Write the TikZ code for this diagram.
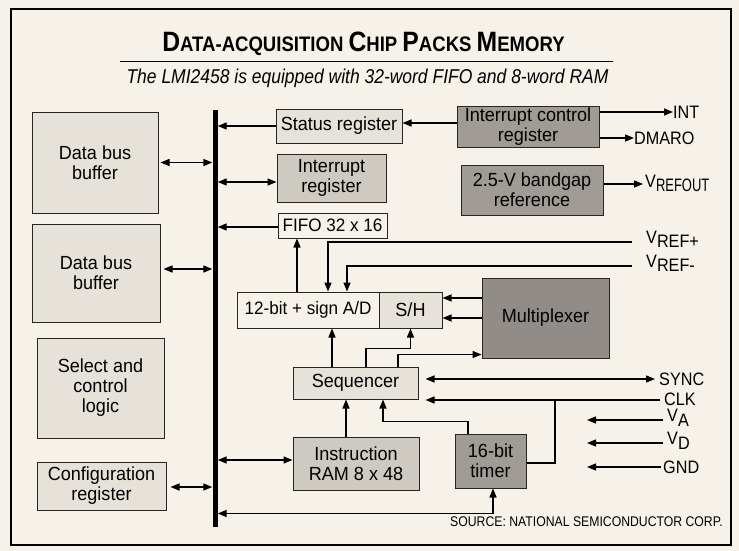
\documentclass[tikz,border=0pt]{standalone}
\usepackage{fontspec}
\setmainfont[FakeStretch=0.95]{Liberation Sans}
\newfontfamily\cnd[FakeStretch=0.9]{Liberation Sans}
\usetikzlibrary{arrows.meta}
\definecolor{bgc}{RGB}{246,241,233}
\definecolor{lgt}{RGB}{230,225,217}
\definecolor{mid}{RGB}{206,201,193}
\definecolor{drk}{RGB}{160,155,149}
\definecolor{drk2}{RGB}{145,140,135}
\begin{document}
\begin{tikzpicture}[x=1pt,y=-1pt,
  box/.style={draw=black!85, line width=1pt, inner sep=0pt, align=center,
    font=\fontsize{19}{20}\selectfont},
  wh/.style 2 args={minimum width=#1pt, minimum height=#2pt},
  arr/.style={line width=1.4pt, -{Triangle[length=9pt,width=7pt]}},
  dbl/.style={line width=1.4pt, {Triangle[length=9pt,width=7pt]}-{Triangle[length=9pt,width=7pt]}},
  ln/.style={line width=1.4pt},
  lab/.style={anchor=west, inner sep=0pt, font=\cnd\fontsize{18}{18}\selectfont}]
\useasboundingbox (0,0) rectangle (739,551);
\fill[bgc] (0,0) rectangle (739,551);
\draw[line width=1.8pt] (11,9) rectangle (731,545);

% title
\node[font=\bfseries, inner sep=0pt] (title) at (363.5,44) {\scalebox{0.93}[1]{%
  \fontsize{28}{30}\selectfont D\fontsize{21}{24}\selectfont ATA-ACQUISITION
  \fontsize{28}{30}\selectfont C\fontsize{21}{24}\selectfont HIP
  \fontsize{28}{30}\selectfont P\fontsize{21}{24}\selectfont ACKS
  \fontsize{28}{30}\selectfont M\fontsize{21}{24}\selectfont EMORY}};
\coordinate (ul1) at (120,62);
\coordinate (ul2) at (613,62);
\draw[line width=1pt] (ul1) -- (ul2);
\node[font=\itshape, inner sep=0pt] (sub) at (367.5,78) {\scalebox{0.92}[1]{\fontsize{20}{22}\selectfont The LMI2458 is equipped with 32-word FIFO and 8-word RAM}};

% bus
\node[fill=black, inner sep=0pt, minimum width=5pt, minimum height=417pt] (bus) at (215,318.5) {};

% left boxes
\node[box, fill=lgt, wh={126}{101}] (dbb1) at (95,162.5) {Data bus\\buffer};
\node[box, fill=lgt, wh={128}{98}] (dbb2) at (96,273) {Data bus\\buffer};
\node[box, fill=lgt, wh={127}{100}] (sel) at (100.5,388) {Select and\\control\\logic};
\node[box, fill=lgt, wh={129}{48}] (cfg) at (101.5,486) {Configuration\\register};

% right boxes
\node[box, fill=lgt, wh={126}{34}] (stat) at (339,126) {Status register};
\node[box, fill=mid, wh={109}{48}] (irq) at (331.5,178) {Interrupt\\register};
\node[box, fill=bgc, wh={109}{25}, font=\fontsize{18}{19}\selectfont] (fifo) at (332.5,225.5) {FIFO 32 x 16};
\node[box, fill=bgc, wh={142}{36}, font=\fontsize{18}{19}\selectfont] (ad) at (308,310) {12-bit + sign A/D};
\node[box, fill=lgt, wh={63}{36}] (sh) at (410.5,310) {S/H};
\node[box, fill=drk2, wh={127}{80}] (mux) at (545.5,318) {Multiplexer};
\node[box, fill=lgt, wh={125}{32}] (seq) at (355.5,383) {Sequencer};
\node[box, fill=mid, wh={126}{53}] (ram) at (356,463.5) {Instruction\\RAM 8 x 48};
\node[box, fill=drk, wh={71}{54}] (tmr) at (490.5,461) {16-bit\\timer};
\node[box, fill=drk, wh={142}{41}] (icr) at (528,126.5) {Interrupt control\\register};
\node[box, fill=drk, wh={142}{50}] (bgr) at (532,190) {2.5-V bandgap\\reference};

% labels
\node[lab] (int) at (673,112) {INT};
\node[lab] (dmaro) at (634,138) {DMARO};
\node[lab] (vrefout) at (645,183) {V\raisebox{-4pt}{\scalebox{0.8}[1]{REFOUT}}};
\node[lab] (vrp) at (646,239) {V\raisebox{-4pt}{REF+}};
\node[lab] (vrm) at (646,263) {V\raisebox{-4pt}{REF-}};
\node[lab] (sync) at (659,379) {SYNC};
\node[lab] (clk) at (664,399) {CLK};
\node[lab] (va) at (667,418) {V\raisebox{-5pt}{A}};
\node[lab] (vd) at (667,441) {V\raisebox{-5pt}{D}};
\node[lab] (gnd) at (663,467) {GND};
\node[anchor=east, inner sep=0pt] (src) at (723,522) {\scalebox{0.92}[1]{\fontsize{14}{14}\selectfont SOURCE: NATIONAL SEMICONDUCTOR CORP.}};

% coordinates for free ends
\coordinate (vrpe) at (632,242);
\coordinate (vrme) at (632,266);
\coordinate (synce) at (655,379);
\coordinate (clke) at (660,400);
\coordinate (cj) at (555,400);
\coordinate (vroe) at (643,184);
\coordinate (vae) at (663,420);
\coordinate (vas) at (587,420);
\coordinate (vde) at (663,443);
\coordinate (vds) at (587,443);
\coordinate (gnde) at (661,467);
\coordinate (gnds) at (587,467);

% bus connections
\draw[dbl, shorten <=2pt] (dbb1.east) -- (dbb1.east -| bus.west);
\draw[dbl, shorten <=3pt] ([yshift=4pt]dbb2.east) -- ([yshift=4pt]dbb2.east -| bus.west);
\draw[dbl, shorten <=4pt] ([yshift=-1pt]cfg.east) -- ([yshift=-1pt]cfg.east -| bus.west);
\draw[arr] (stat.west) -- (stat.west -| bus.east);
\draw[dbl] ([yshift=-4pt]irq.west -| bus.east) -- ([yshift=-4pt]irq.west);
\draw[arr] ([yshift=-1.5pt]fifo.west) -- ([yshift=-1.5pt]fifo.west -| bus.east);
\draw[dbl] ([yshift=3.5pt]ram.west -| bus.east) -- ([yshift=3.5pt]ram.west);
\draw[dbl] ([xshift=2.5pt]tmr.south) -- ++(0,25) coordinate (bc) -- (bc -| bus.east);

% internal
\draw[arr] ([yshift=3.5pt]icr.west) -- ([yshift=3.5pt]icr.west -| stat.east);
\draw[arr] ([xshift=-11pt]ad.north) -- ([xshift=-11pt]ad.north |- fifo.south);
\draw[arr] (vrpe) -| ([xshift=20pt]ad.north);
\draw[arr] (vrme) -| ([xshift=39pt]ad.north);
\draw[arr] ([yshift=20pt]mux.west) -- ([yshift=20pt]mux.west -| sh.east);
\draw[arr] (mux.west) -- (mux.west -| sh.east);
\draw[arr] ([xshift=-23.5pt]seq.north) -- ([xshift=-23.5pt]seq.north |- ad.south);
\draw[arr] ([xshift=10.5pt]seq.north) -- ++(0,-18) -| (sh.south);
\draw[arr] ([xshift=42.5pt]seq.north) |- ([yshift=4pt]mux.south west);
\draw[dbl, shorten <=7pt] ([yshift=4pt]seq.east) -- (synce);
\draw[arr, shorten >=7pt] (clke) -- (clke -| seq.east);
\draw[ln] (cj) |- ([yshift=-2pt]tmr.east);
\draw[arr] ([xshift=-10pt]ram.north) -- ([xshift=-10pt]ram.north |- seq.south);
\draw[arr] ([xshift=-22.5pt]tmr.north) -- ++(0,-12) -| ([xshift=27.5pt]seq.south);

% outputs
\draw[arr] ([yshift=14.5pt]icr.east) -- (int.west);
\draw[arr] ([yshift=-11.5pt]icr.east) -- (dmaro.west);
\draw[arr] ([yshift=6pt]bgr.east) -- (vroe);
\draw[arr] (vae) -- (vas);
\draw[arr] (vde) -- (vds);
\draw[arr] (gnde) -- (gnds);
\end{tikzpicture}
\end{document}
